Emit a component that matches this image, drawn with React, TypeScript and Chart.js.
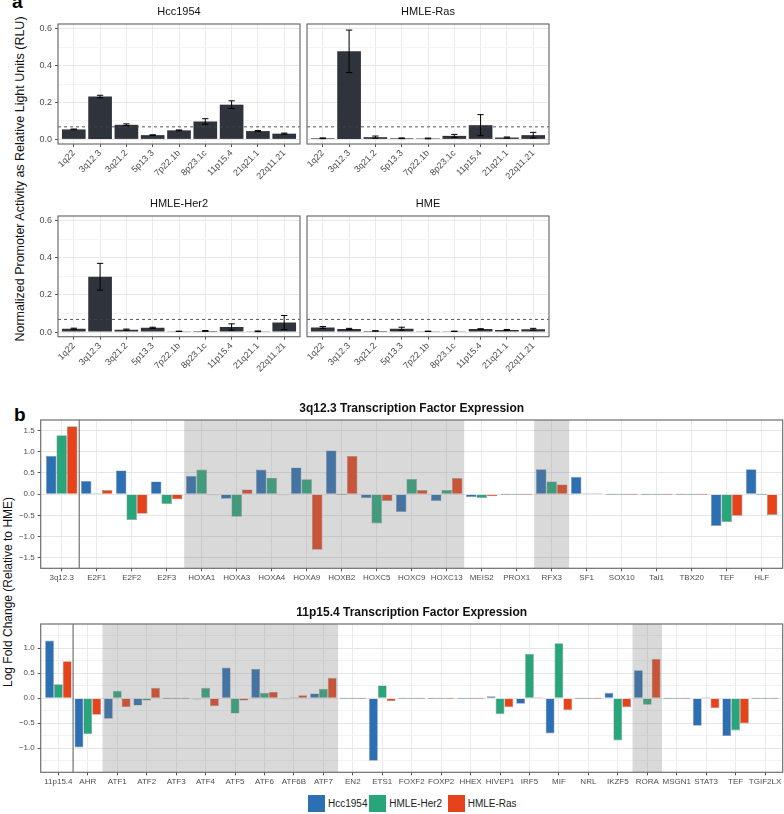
import React, { useEffect, useRef } from 'react';
import { Chart, registerables } from 'chart.js';

Chart.register(...registerables);

const FONT = "'Liberation Sans', Arial, Helvetica, sans-serif";
const TICK_COLOR = '#4d4d4d';

// ---------- Panel a: promoter activity ----------
const LOCI = ['1q22', '3q12.3', '3q21.2', '5p13.3', '7p22.1b', '8p23.1c', '11p15.4', '21q21.1', '22q11.21'];
const HCC1954_RLU = [0.054, 0.232, 0.079, 0.023, 0.049, 0.097, 0.188, 0.045, 0.031];
const HCC1954_SE = [0.002, 0.007, 0.005, 0.002, 0.002, 0.015, 0.021, 0.003, 0.003];
const HMLE_RAS_RLU = [0.006, 0.477, 0.012, 0.006, 0.005, 0.019, 0.077, 0.010, 0.023];
const HMLE_RAS_SE = [0.002, 0.115, 0.006, 0.002, 0.002, 0.008, 0.057, 0.003, 0.015];
const HMLE_HER2_RLU = [0.018, 0.298, 0.013, 0.023, 0.004, 0.006, 0.027, 0.004, 0.051];
const HMLE_HER2_SE = [0.003, 0.072, 0.003, 0.003, 0.001, 0.002, 0.017, 0.002, 0.038];
const HME_RLU = [0.025, 0.017, 0.006, 0.018, 0.004, 0.004, 0.016, 0.011, 0.015];
const HME_SE = [0.005, 0.003, 0.001, 0.008, 0.001, 0.001, 0.002, 0.003, 0.005];
const RLU_THRESHOLD = 0.068;
const RLU_TICKS = [0, 0.1, 0.2, 0.3, 0.4, 0.5, 0.6];
const RLU_LABELED = [0, 0.2, 0.4, 0.6];
const RLU_MIN = -0.025;
const RLU_MAX = 0.625;

// ---------- Panel b: transcription factor expression ----------
const SERIES_NAMES = ['Hcc1954', 'HMLE-Her2', 'HMLE-Ras'];
const SERIES_COLORS = ['#2c6fb2', '#29a57c', '#e6431a'];

const TF3_CATEGORIES = ['3q12.3', 'E2F1', 'E2F2', 'E2F3', 'HOXA1', 'HOXA3', 'HOXA4', 'HOXA9', 'HOXB2', 'HOXC5', 'HOXC9', 'HOXC13', 'MEIS2', 'PROX1', 'RFX3', 'SF1', 'SOX10', 'Tal1', 'TBX20', 'TEF', 'HLF'];
const TF3_HCC1954 = [0.905, 0.31, 0.56, 0.30, 0.43, -0.11, 0.58, 0.63, 1.03, -0.095, -0.42, -0.16, -0.07, 0, 0.59, 0.41, 0, 0, 0, -0.75, 0.59];
const TF3_HER2 = [1.39, 0.01, -0.61, -0.23, 0.58, -0.535, 0.39, 0.35, 0, -0.69, 0.36, 0.095, -0.09, 0, 0.30, 0.015, 0, 0, 0, -0.66, 0];
const TF3_RAS = [1.6, 0.095, -0.465, -0.12, -0.015, 0.11, -0.01, -1.31, 0.90, -0.16, 0.095, 0.38, -0.05, 0, 0.23, 0.015, 0, 0, 0, -0.51, -0.49];
const TF3_SHADED = [[4, 11], [14, 14]];
const TF3_TICKS = [-1.5, -1.25, -1, -0.75, -0.5, -0.25, 0, 0.25, 0.5, 0.75, 1, 1.25, 1.5];
const TF3_MIN = -1.75;
const TF3_MAX = 1.75;

const TF11_CATEGORIES = ['11p15.4', 'AHR', 'ATF1', 'ATF2', 'ATF3', 'ATF4', 'ATF5', 'ATF6', 'ATF6B', 'ATF7', 'EN2', 'ETS1', 'FOXF2', 'FOXP2', 'HHEX', 'HIVEP1', 'IRF5', 'MIF', 'NRL', 'IKZF5', 'RORA', 'MSGN1', 'STAT3', 'TEF', 'TGIF2LX'];
const TF11_HCC1954 = [1.153, -0.987, -0.413, -0.147, 0, -0.027, 0.613, 0.587, -0.005, 0.093, 0, -1.253, 0, 0, 0, 0.04, -0.113, -0.707, 0, 0.107, 0.56, 0, -0.553, -0.76, 0];
const TF11_HER2 = [0.28, -0.72, 0.147, -0.047, 0, 0.207, -0.307, 0.107, 0.005, 0.187, 0, 0.253, 0, 0, 0, -0.32, 0.887, 1.10, 0, -0.847, -0.133, 0, 0.005, -0.647, 0];
const TF11_RAS = [0.74, -0.333, -0.18, 0.207, 0, -0.16, -0.047, 0.127, 0.06, 0.407, 0, -0.06, 0, 0, 0, -0.18, 0.005, -0.24, 0, -0.18, 0.787, 0, -0.2, -0.507, 0];
const TF11_SHADED = [[2, 9], [20, 20]];
const TF11_TICKS = [-1.25, -1, -0.75, -0.5, -0.25, 0, 0.25, 0.5, 0.75, 1, 1.25];
const TF11_MIN = -1.485;
const TF11_MAX = 1.485;

const fmt = (v: number) => (v < 0 ? '\u2212' : '') + Math.abs(v).toFixed(1);
const near = (a: number, b: number) => Math.abs(a - b) < 1e-6;

const decorPlugin = {
  id: 'decor',
  afterDatasetsDraw(chart: any, _args: any, opts: any) {
    const { ctx, chartArea: a, scales } = chart;
    const xs = scales.x;
    const ys = scales.y;
    ctx.save();
    ctx.beginPath();
    ctx.rect(a.left, a.top, a.right - a.left, a.bottom - a.top);
    ctx.clip();
    for (const [s, e] of opts.shade || []) {
      const x0 = xs.getPixelForValue(s - 0.5);
      const x1 = xs.getPixelForValue(e + 0.5);
      ctx.fillStyle = 'rgba(128,128,128,0.3)';
      ctx.fillRect(x0, a.top, x1 - x0, a.bottom - a.top);
    }
    if (opts.separator != null) {
      const sx = xs.getPixelForValue(opts.separator);
      ctx.strokeStyle = '#555';
      ctx.lineWidth = 1;
      ctx.beginPath();
      ctx.moveTo(sx, a.top);
      ctx.lineTo(sx, a.bottom);
      ctx.stroke();
    }
    if (opts.errors) {
      const pts = chart.data.datasets[0].data;
      const half = Math.abs(xs.getPixelForValue(1) - xs.getPixelForValue(0)) * 0.12;
      ctx.strokeStyle = '#000';
      ctx.lineWidth = 1;
      pts.forEach((p: any, i: number) => {
        const e = opts.errors[i];
        const cx = xs.getPixelForValue(p.x);
        const yt = ys.getPixelForValue(p.y + e);
        const yb = ys.getPixelForValue(p.y - e);
        ctx.beginPath();
        ctx.moveTo(cx, yt);
        ctx.lineTo(cx, yb);
        ctx.moveTo(cx - half, yt);
        ctx.lineTo(cx + half, yt);
        ctx.moveTo(cx - half, yb);
        ctx.lineTo(cx + half, yb);
        ctx.stroke();
      });
    }
    if (opts.baseline != null) {
      const by = ys.getPixelForValue(opts.baseline);
      ctx.strokeStyle = '#444';
      ctx.lineWidth = 0.9;
      ctx.setLineDash([3, 3]);
      ctx.beginPath();
      ctx.moveTo(a.left, by);
      ctx.lineTo(a.right, by);
      ctx.stroke();
      ctx.setLineDash([]);
    }
    ctx.restore();
    ctx.save();
    ctx.strokeStyle = '#6e6e6e';
    ctx.lineWidth = 1.2;
    ctx.strokeRect(a.left, a.top, a.right - a.left, a.bottom - a.top);
    if (opts.title) {
      ctx.fillStyle = '#111';
      ctx.font = opts.titleFont;
      ctx.textAlign = 'center';
      ctx.textBaseline = 'middle';
      ctx.fillText(opts.title, (a.left + a.right) / 2, a.top - opts.titleOffset);
    }
    ctx.restore();
  },
};

function rluConfig(title: string, values: number[], errors: number[], showY: boolean, xHeight: number) {
  return {
    type: 'bar',
    data: {
      datasets: [
        {
          data: values.map((v, i) => ({ x: i, y: v })),
          backgroundColor: '#2f343c',
          borderWidth: 0,
          barPercentage: 0.9,
          categoryPercentage: 1,
        },
      ],
    },
    options: {
      animation: false,
      responsive: false,
      devicePixelRatio: 1,
      events: [],
      layout: { autoPadding: false, padding: { top: 24, right: 4, left: 0, bottom: 0 } },
      plugins: {
        legend: { display: false },
        tooltip: { enabled: false },
        decor: { title, titleFont: `11px ${FONT}`, titleOffset: 12, errors, baseline: RLU_THRESHOLD },
      },
      scales: {
        x: {
          type: 'linear',
          offset: false,
          bounds: 'data',
          min: -0.6,
          max: LOCI.length - 0.4,
          afterBuildTicks: (s: any) => {
            s.ticks = LOCI.map((_, i) => ({ value: i }));
          },
          afterFit: (s: any) => {
            s.height = xHeight;
          },
          ticks: {
            autoSkip: false,
            minRotation: 45,
            maxRotation: 45,
            padding: 1,
            color: TICK_COLOR,
            font: { family: FONT, size: 9 },
            callback: (v: number) => LOCI[Math.round(v)],
          },
          grid: { offset: false, color: '#ebebeb', lineWidth: 1, tickLength: 3, tickColor: '#555' },
          border: { display: false },
        },
        y: {
          type: 'linear',
          bounds: 'data',
          min: RLU_MIN,
          max: RLU_MAX,
          afterBuildTicks: (s: any) => {
            s.ticks = RLU_TICKS.map((v) => ({ value: v }));
          },
          afterFit: (s: any) => {
            s.width = showY ? 58 : 4;
          },
          ticks: {
            padding: 3,
            color: TICK_COLOR,
            font: { family: FONT, size: 9 },
            callback: (v: number) => (showY && RLU_LABELED.some((m) => near(m, v)) ? v.toFixed(1) : ''),
          },
          grid: {
            drawTicks: showY,
            tickLength: 3,
            color: (c: any) => (c.tick && RLU_LABELED.some((m) => near(m, c.tick.value)) ? '#e8e8e8' : '#f3f3f3'),
            tickColor: (c: any) => (c.tick && RLU_LABELED.some((m) => near(m, c.tick.value)) ? '#555' : 'rgba(0,0,0,0)'),
          },
          border: { display: false },
        },
      },
    },
    plugins: [decorPlugin],
  };
}

function tfConfig(
  title: string,
  cats: string[],
  series: number[][],
  yMin: number,
  yMax: number,
  yTicks: number[],
  shade: number[][],
  xHeight: number
) {
  const isMajor = (v: number) => near(v * 2, Math.round(v * 2));
  return {
    type: 'bar',
    data: {
      datasets: series.map((vals, k) => ({
        label: SERIES_NAMES[k],
        data: vals.map((v, i) => ({ x: i, y: v })),
        backgroundColor: SERIES_COLORS[k],
        borderColor: 'rgba(70,70,70,0.55)',
        borderWidth: 0.6,
        minBarLength: 1,
        barPercentage: 1,
        categoryPercentage: 0.9,
      })),
    },
    options: {
      animation: false,
      responsive: false,
      devicePixelRatio: 1,
      events: [],
      layout: { autoPadding: false, padding: { top: 20, right: 1.3, left: 0, bottom: 0 } },
      plugins: {
        legend: { display: false },
        tooltip: { enabled: false },
        decor: { title, titleFont: `bold 12px ${FONT}`, titleOffset: 11, shade, separator: 0.5 },
      },
      scales: {
        x: {
          type: 'linear',
          offset: false,
          bounds: 'data',
          min: -0.6,
          max: cats.length - 0.4,
          afterBuildTicks: (s: any) => {
            s.ticks = cats.map((_, i) => ({ value: i }));
          },
          afterFit: (s: any) => {
            s.height = xHeight;
          },
          ticks: {
            autoSkip: false,
            minRotation: 0,
            maxRotation: 0,
            padding: 2,
            color: TICK_COLOR,
            font: { family: FONT, size: 8 },
            callback: (v: number) => cats[Math.round(v)],
          },
          grid: { offset: false, color: '#ebebeb', lineWidth: 1, tickLength: 3, tickColor: '#555' },
          border: { display: false },
        },
        y: {
          type: 'linear',
          bounds: 'data',
          min: yMin,
          max: yMax,
          afterBuildTicks: (s: any) => {
            s.ticks = yTicks.map((v) => ({ value: v }));
          },
          afterFit: (s: any) => {
            s.width = 40.7;
          },
          ticks: {
            padding: 3,
            color: TICK_COLOR,
            font: { family: FONT, size: 8 },
            callback: (v: number) => (isMajor(v) ? fmt(v) : ''),
          },
          grid: {
            tickLength: 3,
            color: (c: any) => (c.tick && isMajor(c.tick.value) ? '#e6e6e6' : '#f2f2f2'),
            tickColor: (c: any) => (c.tick && isMajor(c.tick.value) ? '#555' : 'rgba(0,0,0,0)'),
          },
          border: { display: false },
        },
      },
    },
    plugins: [decorPlugin],
  };
}

function ChartBox({ left, top, width, height, make }: { left: number; top: number; width: number; height: number; make: () => any }) {
  const ref = useRef<HTMLCanvasElement>(null);
  useEffect(() => {
    const chart = new Chart(ref.current as HTMLCanvasElement, make());
    return () => chart.destroy();
  }, []);
  return <canvas ref={ref} width={width} height={height} style={{ position: 'absolute', left, top, width, height }} />;
}

function VText({ x, y, size, text }: { x: number; y: number; size: number; text: string }) {
  return (
    <div
      style={{
        position: 'absolute',
        left: x,
        top: y,
        transform: 'translate(-50%, -50%) rotate(-90deg)',
        whiteSpace: 'nowrap',
        fontFamily: FONT,
        fontSize: size,
        color: '#111',
        lineHeight: 1,
      }}
    >
      {text}
    </div>
  );
}

const LEGEND_X = [308, 369.3, 447.7];

export default function App() {
  return (
    <div style={{ position: 'absolute', left: 0, top: 0, width: 784, height: 814, background: '#fff', overflow: 'hidden', fontFamily: FONT }}>
      <div style={{ position: 'absolute', left: 12, top: -8, fontSize: 19, fontWeight: 'bold', lineHeight: 1 }}>a</div>
      <div style={{ position: 'absolute', left: 14, top: 405, fontSize: 19, fontWeight: 'bold', lineHeight: 1 }}>b</div>

      <VText x={20} y={179} size={12.5} text="Normalized Promoter Activity as Relative Light Units (RLU)" />
      <VText x={8} y={592} size={12} text="Log Fold Change (Relative to HME)" />

      <ChartBox left={0} top={0} width={304} height={200} make={() => rluConfig('Hcc1954', HCC1954_RLU, HCC1954_SE, true, 56)} />
      <ChartBox left={303} top={0} width={250} height={200} make={() => rluConfig('HMLE-Ras', HMLE_RAS_RLU, HMLE_RAS_SE, false, 56)} />
      <ChartBox left={0} top={192} width={304} height={200} make={() => rluConfig('HMLE-Her2', HMLE_HER2_RLU, HMLE_HER2_SE, true, 55.3)} />
      <ChartBox left={303} top={192} width={250} height={200} make={() => rluConfig('HME', HME_RLU, HME_SE, false, 55.3)} />

      <ChartBox
        left={0}
        top={400}
        width={784}
        height={186}
        make={() =>
          tfConfig('3q12.3 Transcription Factor Expression', TF3_CATEGORIES, [TF3_HCC1954, TF3_HER2, TF3_RAS], TF3_MIN, TF3_MAX, TF3_TICKS, TF3_SHADED, 17.7)
        }
      />
      <ChartBox
        left={0}
        top={604}
        width={784}
        height={186}
        make={() =>
          tfConfig('11p15.4 Transcription Factor Expression', TF11_CATEGORIES, [TF11_HCC1954, TF11_HER2, TF11_RAS], TF11_MIN, TF11_MAX, TF11_TICKS, TF11_SHADED, 17.7)
        }
      />

      {SERIES_NAMES.map((name, k) => (
        <div key={name} style={{ position: 'absolute', left: LEGEND_X[k], top: 795, height: 17, display: 'flex', alignItems: 'center' }}>
          <div style={{ width: 17, height: 17, background: SERIES_COLORS[k] }} />
          <span style={{ marginLeft: 3, fontSize: 10, color: '#222', whiteSpace: 'nowrap' }}>{name}</span>
        </div>
      ))}
    </div>
  );
}
